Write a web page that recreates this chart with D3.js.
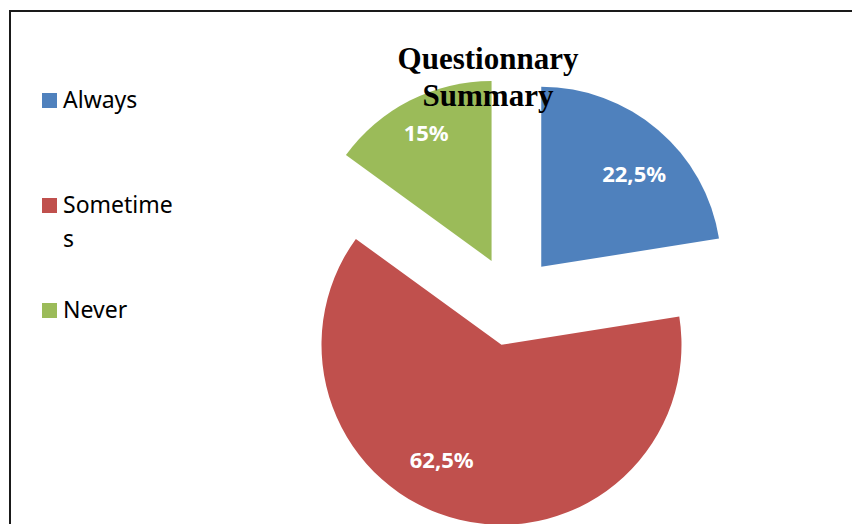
<!DOCTYPE html>
<html>
<head>
<meta charset="utf-8">
<script src="https://cdn.jsdelivr.net/npm/d3@7"></script>
<style>
  html, body { margin: 0; padding: 0; background: #fff; overflow: hidden; }
  svg { display: block; }
</style>
</head>
<body>
<svg id="chart" width="852" height="524"></svg>
<script>
// Survey answers and their shares (percent)
const categories = ["Always", "Sometimes", "Never"];
const shares = [22.5, 62.5, 15];
const valueLabels = ["22,5%", "62,5%", "15%"];
const legendLines = [["Always"], ["Sometime", "s"], ["Never"]];
const colors = ["#4F81BD", "#C0504D", "#9BBB59"];
const titleLines = ["Questionnary", "Summary"];

// Layout
const W = 852, H = 524;
const cx = 512, cy = 301, radius = 180, explode = 45;
// label placement within each slice: fraction of radius, angular nudge (deg)
const labelRadiusFrac = [0.73, 0.72, 0.8];
const labelAngleNudge = [4.5, 14, 0];

const svg = d3.select("#chart");

// chart frame (extends beyond the visible area on right and bottom)
svg.append("rect")
  .attr("x", 10).attr("y", 11)
  .attr("width", W + 20).attr("height", H + 20)
  .attr("fill", "none")
  .attr("stroke", "#1a1a1a")
  .attr("stroke-width", 2);

const data = categories.map((c, i) => ({ name: c, value: shares[i], label: valueLabels[i], color: colors[i], idx: i }));

const pie = d3.pie().value(d => d.value).sort(null).startAngle(0).endAngle(2 * Math.PI);
const arcs = pie(data);
const arc = d3.arc().innerRadius(0).outerRadius(radius);

const g = svg.append("g").attr("transform", `translate(${cx},${cy})`);

const slices = g.selectAll("g.slice")
  .data(arcs)
  .join("g")
  .attr("class", "slice")
  .attr("transform", d => {
    const mid = (d.startAngle + d.endAngle) / 2;
    return `translate(${explode * Math.sin(mid)},${-explode * Math.cos(mid)})`;
  });

slices.append("path")
  .attr("d", arc)
  .attr("fill", d => d.data.color);

slices.append("text")
  .attr("transform", d => {
    const i = d.data.idx;
    const a = (d.startAngle + d.endAngle) / 2 + labelAngleNudge[i] * Math.PI / 180;
    const r = radius * labelRadiusFrac[i];
    return `translate(${r * Math.sin(a)},${-r * Math.cos(a)})`;
  })
  .attr("text-anchor", "middle")
  .attr("dy", "0.36em")
  .attr("fill", "#fff")
  .attr("font-family", "'Noto Sans', sans-serif")
  .attr("font-weight", "bold")
  .attr("font-size", 22)
  .text(d => d.data.label);

// title, drawn over the pie
const title = svg.append("text")
  .attr("text-anchor", "middle")
  .attr("font-family", "'Liberation Serif', 'Times New Roman', serif")
  .attr("font-weight", "bold")
  .attr("font-size", 31)
  .attr("fill", "#000");
title.selectAll("tspan")
  .data(titleLines)
  .join("tspan")
  .attr("x", 488)
  .attr("y", (d, i) => 69 + i * 37)
  .text(d => d);

// legend
const legend = svg.append("g");
const item = legend.selectAll("g")
  .data(data)
  .join("g")
  .attr("transform", (d, i) => `translate(42,${93 + i * 105})`);

item.append("rect")
  .attr("width", 15).attr("height", 15)
  .attr("fill", d => d.color);

item.append("text")
  .attr("font-family", "'Noto Sans', sans-serif")
  .attr("font-size", 23)
  .attr("fill", "#000")
  .selectAll("tspan")
  .data(d => legendLines[d.idx])
  .join("tspan")
  .attr("x", 21)
  .attr("y", (d, i) => 15 + i * 34)
  .text(d => d);
</script>
</body>
</html>
